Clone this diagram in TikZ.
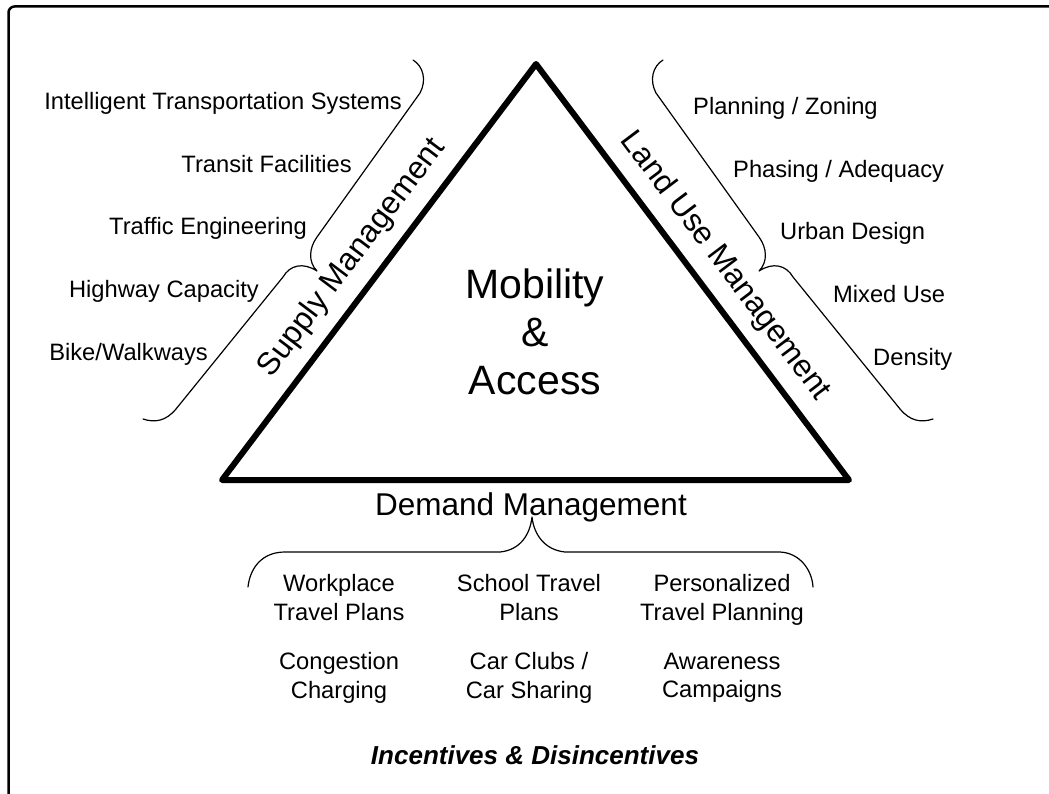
\documentclass[tikz,border=0pt]{standalone}
\usepackage{fontspec}
\setmainfont{Liberation Sans}
\usetikzlibrary{positioning}
\tikzset{
x=1pt, y=-1pt, % one unit per pixel, y grows downward
item/.style={font=\fontsize{23.7}{28.3}\selectfont, inner sep=0pt}, % the listed measures
plan/.style={item, align=center, anchor=north}, % two-line measures under the bottom brace
mgmt/.style={font=\fontsize{31.5}{36}\selectfont, inner sep=0pt}, % the three sides
core/.style={font=\fontsize{41}{48}\selectfont, align=center, inner sep=0pt}, % text in the middle
brace/.style={line width=1.2pt, line cap=round, line join=round}, % thin curly braces
tri/.style={line width=6pt, line join=round}, % the heavy triangle
}

\begin{document}
\begin{tikzpicture}
                \useasboundingbox (0,0) rectangle (1049,794);
                \draw[line width=2.5pt, rounded corners=6pt] (8.5,820) -- (8.5,6.5) -- (1070,6.5);

                \coordinate (apex) at (536,64);
                \coordinate (bl) at (222,480);
                \coordinate (br) at (849,480);
                \draw[tri] (apex) -- (bl) -- (br) -- cycle;

                \node[core] (mob) at (535,332) {Mobility\\\&\\Access};
                \node[mgmt, rotate=53] (supply) at (352,258) {Supply Management};
                \node[mgmt, rotate=-53] (land) at (725,266) {Land Use Management};
                \node[mgmt] (demand) at (531,507) {Demand Management};

                % supply side
                \node[item, anchor=base east] (its) at (402,110) {Intelligent Transportation Systems};
                \node[item, anchor=base east] (transit) at (352,172.5) {Transit Facilities};
                \node[item, anchor=base east] (traffic) at (307,235) {Traffic Engineering};
                \node[item, anchor=base east] (highway) at (259,297.5) {Highway Capacity};
                \node[item, anchor=base east] (bike) at (208,360) {Bike/Walkways};
                \draw[brace] (413,60) .. controls (423,66) and (427,80) .. (420,93) -- (317,237)
                    .. controls (309,248) and (308,262) .. (317,271)
                    .. controls (303,262) and (290,265) .. (283,277) -- (176,409)
                    .. controls (166,421) and (155,423) .. (143,419);

                % land use side
                \node[item, anchor=base west] (zoning) at (693,115) {Planning / Zoning};
                \node[item, anchor=base west] (phasing) at (733,177.5) {Phasing / Adequacy};
                \node[item, anchor=base west] (urban) at (780,240) {Urban Design};
                \node[item, anchor=base west] (mixed) at (833,302.5) {Mixed Use};
                \node[item, anchor=base west] (density) at (873,365) {Density};
                \draw[brace] (663,60) .. controls (653,66) and (649,80) .. (656,93) -- (759,237)
                    .. controls (767,248) and (768,262) .. (759,271)
                    .. controls (773,262) and (786,265) .. (793,277) -- (900,409)
                    .. controls (910,421) and (921,423) .. (933,419);

                % demand side
                \draw[brace] (248,587) .. controls (250,568) and (262,552) .. (285,552) -- (500,552)
                    .. controls (520,550) and (530,535) .. (532,517)
                    .. controls (534,535) and (545,550) .. (565,552) -- (780,552)
                    .. controls (800,553) and (812,570) .. (813,587);
                \node[plan] (work) at (339,574.5) {Workplace\\Travel Plans};
                \node[plan] (school) at (529,574.5) {School Travel\\Plans};
                \node[plan] (personal) at (722,574.5) {Personalized\\Travel Planning};
                \node[plan] (charge) at (339,652.5) {Congestion\\Charging};
                \node[plan] (clubs) at (529,652.5) {Car Clubs /\\Car Sharing};
                \node[plan] (aware) at (722,652.5) {Awareness\\Campaigns};
                \node[font=\fontsize{26}{30}\selectfont\bfseries\itshape, inner sep=0pt] (incent) at (535,755) {Incentives \& Disincentives};
                \end{tikzpicture}
\end{document}
